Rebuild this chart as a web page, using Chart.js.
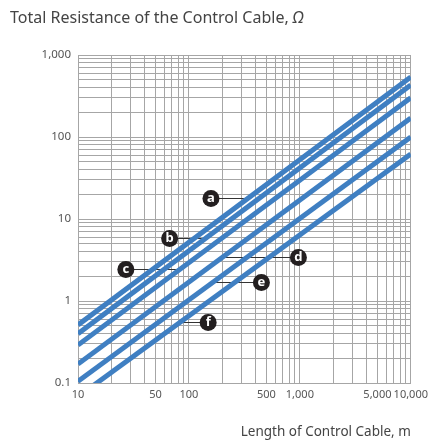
<!DOCTYPE html>
<html>
<head>
<meta charset="utf-8">
<script src="https://cdn.jsdelivr.net/npm/chart.js@4.4.1/dist/chart.umd.min.js"></script>
<style>
	html, body { margin: 0; padding: 0; background: #fff; }
	#wrap { width: 433px; height: 442px; }
</style>
</head>
<body>
<div id="wrap"><canvas id="cable-chart" width="433" height="442"></canvas></div>
<script>
( function () {
	'use strict';

	// cable length (m) at both ends of each line
	var lengths = [ 10, 10000 ];

	// total resistance (ohm) at 10 m and 10,000 m, one array per cable
	var seriesA = [ 0.51, 540 ];
	var seriesB = [ 0.40, 430 ];
	var seriesC = [ 0.29, 300 ];
	var seriesD = [ 0.17, 170 ];
	var seriesE = [ 0.105, 100 ];
	var seriesF = [ 0.068, 62 ];

	var seriesNames = [ 'a', 'b', 'c', 'd', 'e', 'f' ];
	var seriesValues = [ seriesA, seriesB, seriesC, seriesD, seriesE, seriesF ];

	var xLabelValues = [ 10, 50, 100, 500, 1000, 5000, 10000 ];
	var xLabelText = [ '10', '50', '100', '500', '1,000', '5,000', '10,000' ];
	var yLabelValues = [ 0.1, 1, 10, 100, 1000 ];
	var yLabelText = [ '0.1', '1', '10', '100', '1,000' ];

	// letter tags: length where the badge sits, length where its leader meets the line
	var tagCircleAt = [ 158, 67, 27, 970, 450, 149 ];
	var tagTouchAt = [ 348, 144, 84, 200, 165, 83 ];

	var FONT = '"Noto Sans", "Open Sans", sans-serif';
	var BLUE = '#3f7fc2';
	var GRID = '#a6a6a6';

	function decadeTicks( min, max ) {
		var out = [];
		for ( var e = Math.round( Math.log10( min ) ); Math.pow( 10, e ) < max; e++ ) {
			for ( var k = 1; k < 10; k++ ) {
				out.push( { value: Number( ( k * Math.pow( 10, e ) ).toPrecision( 6 ) ) } );
			}
		}
		out.push( { value: max } );
		return out;
	}

	function labelFor( values, texts, v ) {
		for ( var i = 0; i < values.length; i++ ) {
			if ( Math.abs( values[i] - v ) / values[i] < 1e-6 ) {
				return texts[i];
			}
		}
		return '';
	}

	function valueAt( series, len ) {
		var l0 = Math.log10( lengths[0] ), l1 = Math.log10( lengths[1] );
		var t = ( Math.log10( len ) - l0 ) / ( l1 - l0 );
		var v0 = Math.log10( series[0] ), v1 = Math.log10( series[1] );
		return Math.pow( 10, v0 + t * ( v1 - v0 ) );
	}

	var letterTags = {
		id: 'letterTags',
		beforeDatasetsDraw: function ( chart ) {
			var ctx = chart.ctx, xs = chart.scales.x, ys = chart.scales.y;
			ctx.save();
			ctx.strokeStyle = '#333';
			ctx.lineWidth = 1;
			seriesNames.forEach( function ( name, i ) {
				var py = Math.round( ys.getPixelForValue( valueAt( seriesValues[i], tagTouchAt[i] ) ) ) + 0.5;
				ctx.beginPath();
				ctx.moveTo( xs.getPixelForValue( tagCircleAt[i] ), py );
				ctx.lineTo( xs.getPixelForValue( tagTouchAt[i] ), py );
				ctx.stroke();
			} );
			ctx.restore();
		},
		afterDatasetsDraw: function ( chart ) {
			var ctx = chart.ctx, xs = chart.scales.x, ys = chart.scales.y;
			ctx.save();
			seriesNames.forEach( function ( name, i ) {
				var px = xs.getPixelForValue( tagCircleAt[i] );
				var py = Math.round( ys.getPixelForValue( valueAt( seriesValues[i], tagTouchAt[i] ) ) ) + 0.5;
				ctx.beginPath();
				ctx.arc( px, py, 8.5, 0, Math.PI * 2 );
				ctx.fillStyle = '#231f20';
				ctx.fill();
				ctx.fillStyle = '#fff';
				ctx.font = 'bold 13px ' + FONT;
				ctx.textAlign = 'center';
				ctx.textBaseline = 'middle';
				ctx.fillText( name, px, py );
			} );
			ctx.restore();
		},
	};

	var topTitle = {
		id: 'topTitle',
		afterDraw: function ( chart ) {
			var ctx = chart.ctx;
			var text = 'Total Resistance of the Control Cable, ';
			ctx.save();
			ctx.fillStyle = '#444';
			ctx.textBaseline = 'middle';
			ctx.textAlign = 'left';
			ctx.font = '16px ' + FONT;
			ctx.fillText( text, 10, 18 );
			var w = ctx.measureText( text ).width;
			ctx.font = 'italic 16px ' + FONT;
			ctx.fillText( 'Ω', 10 + w, 18 );
			ctx.restore();
		},
	};

	new Chart( document.getElementById( 'cable-chart' ), {
		type: 'line',
		data: {
			datasets: seriesValues.map( function ( vals, i ) {
				return {
					label: seriesNames[i],
					data: lengths.map( function ( len, j ) {
						return { x: len, y: vals[j] };
					} ),
					borderColor: BLUE,
					borderWidth: 5,
					pointRadius: 0,
					fill: false,
					tension: 0,
					clip: 0,
				};
			} ),
		},
		options: {
			responsive: false,
			animation: false,
			layout: {
				padding: { top: 55, right: 20, bottom: 0, left: 0 },
			},
			plugins: {
				legend: { display: false },
				tooltip: { enabled: false },
			},
			scales: {
				x: {
					type: 'logarithmic',
					min: 10,
					max: 10000,
					afterBuildTicks: function ( scale ) {
						scale.ticks = decadeTicks( 10, 10000 );
					},
					afterFit: function ( scale ) {
						scale.height = 59;
					},
					grid: { color: GRID, drawTicks: false },
					border: { color: GRID },
					ticks: {
						autoSkip: false,
						maxRotation: 0,
						padding: 5,
						color: '#555',
						font: { family: FONT, size: 11 },
						callback: function ( v ) {
							return labelFor( xLabelValues, xLabelText, v );
						},
					},
					title: {
						display: true,
						text: 'Length of Control Cable, m',
						align: 'end',
						color: '#444',
						font: { family: FONT, size: 13.5 },
						padding: { top: 0, bottom: 2 },
					},
				},
				y: {
					type: 'logarithmic',
					min: 0.1,
					max: 1000,
					afterBuildTicks: function ( scale ) {
						scale.ticks = decadeTicks( 0.1, 1000 );
					},
					afterFit: function ( scale ) {
						scale.width = 78;
					},
					grid: { color: GRID, drawTicks: false },
					border: { color: GRID },
					ticks: {
						autoSkip: false,
						padding: 7,
						color: '#555',
						font: { family: FONT, size: 11.5 },
						callback: function ( v ) {
							return labelFor( yLabelValues, yLabelText, v );
						},
					},
				},
			},
		},
		plugins: [ letterTags, topTitle ],
	} );
}() );
</script>
</body>
</html>
